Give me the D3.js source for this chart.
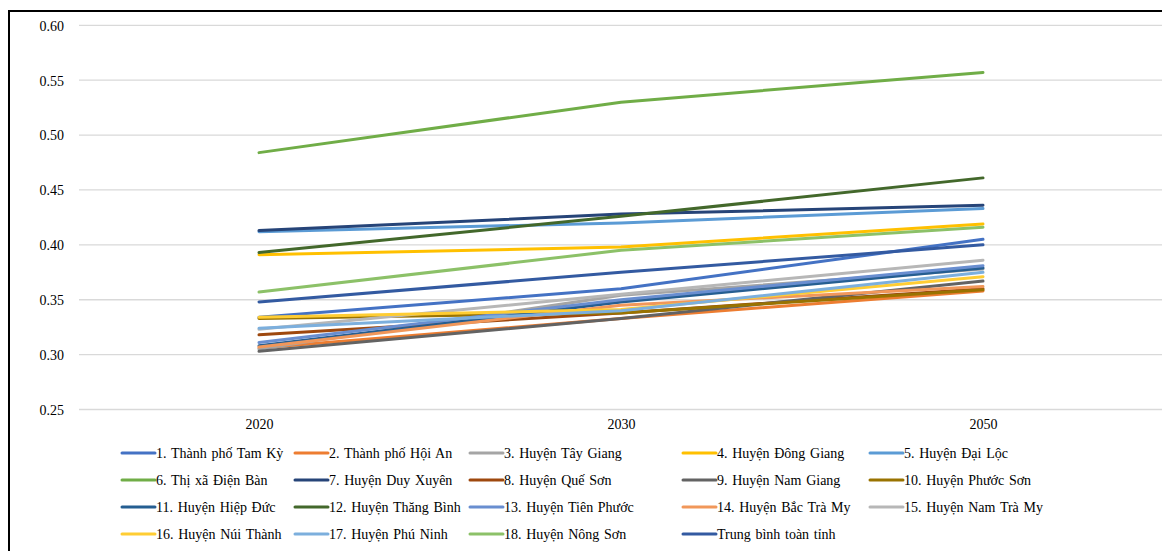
<!DOCTYPE html>
<html>
<head>
<meta charset="utf-8">
<script src="https://cdn.jsdelivr.net/npm/d3@7"></script>
<style>
  html, body { margin: 0; padding: 0; background: #fff; }
  svg { display: block; }
  text { font-family: "Liberation Serif", "Times New Roman", serif; fill: #000; }
</style>
</head>
<body>
<svg id="chart" width="1162" height="551"></svg>
<script>
// Categories (years) and y-axis ticks
const years = ["2020", "2030", "2050"];
const yTicks = [0.25, 0.30, 0.35, 0.40, 0.45, 0.50, 0.55, 0.60];

// Series names
const names = [
  "1. Thành phố Tam Kỳ", "2. Thành phố Hội An", "3. Huyện Tây Giang", "4. Huyện Đông Giang", "5. Huyện Đại Lộc",
  "6. Thị xã Điện Bàn", "7. Huyện Duy Xuyên", "8. Huyện Quế Sơn", "9. Huyện Nam Giang", "10. Huyện Phước Sơn",
  "11. Huyện Hiệp Đức", "12. Huyện Thăng Bình", "13. Huyện Tiên Phước", "14. Huyện Bắc Trà My", "15. Huyện Nam Trà My",
  "16. Huyện Núi Thành", "17. Huyện Phú Ninh", "18. Huyện Nông Sơn", "Trung bình toàn tỉnh"
];

// Series values for 2020, 2030, 2050
const values = [
  [0.334, 0.360, 0.405],
  [0.306, 0.333, 0.358],
  [0.305, 0.354, 0.378],
  [0.391, 0.398, 0.419],
  [0.412, 0.420, 0.433],
  [0.484, 0.530, 0.557],
  [0.413, 0.428, 0.436],
  [0.318, 0.338, 0.360],
  [0.303, 0.333, 0.367],
  [0.333, 0.338, 0.359],
  [0.308, 0.348, 0.379],
  [0.393, 0.426, 0.461],
  [0.311, 0.350, 0.381],
  [0.307, 0.345, 0.362],
  [0.323, 0.355, 0.386],
  [0.334, 0.341, 0.371],
  [0.324, 0.340, 0.375],
  [0.357, 0.395, 0.416],
  [0.348, 0.375, 0.400]
];

// Series colours
const colors = [
  "#4472C4", "#ED7D31", "#A5A5A5", "#FFC000", "#5B9BD5",
  "#70AD47", "#264478", "#9E480E", "#636363", "#997300",
  "#255E91", "#43682B", "#698ED0", "#F1975A", "#B7B7B7",
  "#FFCD33", "#7CAFDD", "#8CC168", "#335AA1"
];

const svg = d3.select("#chart");
const W = 1162, H = 551;

// Outer chart frame
svg.append("rect")
  .attr("x", 9).attr("y", 11)
  .attr("width", W + 10).attr("height", H + 10)
  .attr("fill", "none").attr("stroke", "#000").attr("stroke-width", 2);

const plot = { left: 78, right: 1164, top: 25.3, bottom: 409.5 };

const x = d3.scalePoint().domain(years).range([plot.left, plot.right]).padding(0.5);
const y = d3.scaleLinear().domain([0.25, 0.60]).range([plot.bottom, plot.top]);

// Horizontal gridlines
svg.append("g")
  .selectAll("line").data(yTicks).join("line")
  .attr("x1", 79).attr("x2", W)
  .attr("y1", d => y(d)).attr("y2", d => y(d))
  .attr("stroke", "#D9D9D9").attr("stroke-width", 1.3);

// Y axis labels
const yAxis = d3.axisLeft(y).tickValues(yTicks).tickFormat(d3.format(".2f")).tickSize(0).tickPadding(0);
const gy = svg.append("g").attr("transform", "translate(64,0)").call(yAxis);
gy.select(".domain").remove();
gy.selectAll("text").attr("font-size", 14).attr("font-family", "Liberation Serif, serif").attr("fill", "#000").attr("dy", "0.35em");

// X axis labels
const xAxis = d3.axisBottom(x).tickSize(0).tickPadding(0);
const gx = svg.append("g").attr("transform", "translate(0,419)").call(xAxis);
gx.select(".domain").remove();
gx.selectAll("text").attr("font-size", 14).attr("font-family", "Liberation Serif, serif").attr("fill", "#000").attr("dy", "0.71em");

// Lines
const line = d3.line().x((d, i) => x(years[i])).y(d => y(d));
svg.append("g")
  .selectAll("path").data(values).join("path")
  .attr("d", line)
  .attr("fill", "none")
  .attr("stroke", (d, i) => colors[i])
  .attr("stroke-width", 3)
  .attr("stroke-linecap", "round")
  .attr("stroke-linejoin", "round");

// Legend (5 columns, 4 rows)
const colX = [122, 295, 470, 683, 870];
const rowY = [453, 480, 507, 534];
const leg = svg.append("g")
  .selectAll("g").data(names).join("g")
  .attr("transform", (d, i) => `translate(${colX[i % 5]},${rowY[Math.floor(i / 5)]})`);
leg.append("line")
  .attr("x1", 0).attr("x2", 33).attr("y1", 0).attr("y2", 0)
  .attr("stroke", (d, i) => colors[i]).attr("stroke-width", 3).attr("stroke-linecap", "round");
leg.append("text")
  .attr("x", 34).attr("y", 0).attr("dy", "0.35em")
  .attr("font-size", 14)
  .attr("word-spacing", 1.2)
  .text(d => d);
</script>
</body>
</html>
